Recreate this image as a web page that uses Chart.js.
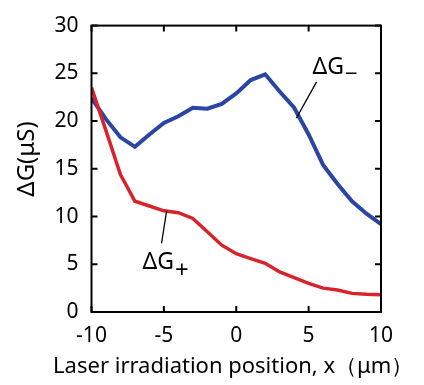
<!DOCTYPE html>
<html>
<head>
<meta charset="utf-8">
<script src="https://cdn.jsdelivr.net/npm/chart.js@4/dist/chart.umd.min.js"></script>
<style>
  html, body { margin: 0; padding: 0; background: #fff; }
  #wrap { width: 424px; height: 385px; }
</style>
</head>
<body>
<div id="wrap"><canvas id="chart"></canvas></div>
<script>
// datos
const positions = [-10, -9, -8, -7, -6, -5, -4, -3, -2, -1, 0, 1, 2, 3, 4, 5, 6, 7, 8, 9, 10];
const gPlus  = [23.5, 19.0, 14.4, 11.6, 11.1, 10.6, 10.4, 9.8, 8.4, 7.0, 6.1, 5.6, 5.1, 4.2, 3.6, 3.0, 2.5, 2.3, 1.95, 1.85, 1.8];
const gMinus = [22.4, 20.2, 18.3, 17.3, 18.6, 19.8, 20.5, 21.4, 21.3, 21.8, 22.9, 24.3, 24.9, 23.1, 21.4, 18.6, 15.4, 13.4, 11.6, 10.3, 9.2];
const xTicks = [-10, -5, 0, 5, 10];
const yTicks = [0, 5, 10, 15, 20, 25, 30];
const xTitle = 'Laser irradiation position, x（μm）';
const yTitle = 'ΔG(μS)';

const FONT = "'Noto Sans', sans-serif";

function toPoints(values) {
    return positions.map((x, i) => ({ x: x, y: values[i] }));
}

// etiquetas dentro del grafico (valores en coordenadas de datos)
const labels = [
    { text: 'ΔG', sub: '−', x: 5.27, y: 24.9, lineFrom: [5.55, 24.1], lineTo: [4.15, 20.3] },
    { text: 'ΔG', sub: '+', x: -6.47, y: 4.55, lineFrom: [-4.81, 10.6], lineTo: [-5.16, 7.2] }
];

const framePlugin = {
    id: 'frame',
    afterDraw(chart) {
        const ctx = chart.ctx;
        const a = chart.chartArea;
        const xs = chart.scales.x;
        const ys = chart.scales.y;
        ctx.save();
        ctx.strokeStyle = '#000';
        ctx.lineWidth = 2;
        ctx.strokeRect(a.left, a.top, a.right - a.left, a.bottom - a.top);
        // ticks hacia adentro en los cuatro lados
        const len = 6;
        ctx.beginPath();
        for (let v of xTicks) {
            let px = xs.getPixelForValue(v);
            ctx.moveTo(px, a.bottom); ctx.lineTo(px, a.bottom - len);
            ctx.moveTo(px, a.top); ctx.lineTo(px, a.top + len);
        }
        for (let v of yTicks) {
            let py = ys.getPixelForValue(v);
            ctx.moveTo(a.left, py); ctx.lineTo(a.left + len, py);
            ctx.moveTo(a.right, py); ctx.lineTo(a.right - len, py);
        }
        ctx.stroke();

        // titulos de los ejes (Chart.js comprime el titulo x al ancho del eje)
        ctx.fillStyle = '#000';
        ctx.font = '22px ' + FONT;
        ctx.textAlign = 'center';
        ctx.textBaseline = 'alphabetic';
        ctx.fillText(xTitle, (a.left + a.right) / 2 - 3, 373);
        ctx.save();
        ctx.translate(27, 159);
        ctx.rotate(-Math.PI / 2);
        ctx.font = '24px ' + FONT;
        ctx.textBaseline = 'middle';
        ctx.fillText(yTitle, 0, 0);
        ctx.restore();

        // etiquetas ΔG+ y ΔG−
        ctx.lineWidth = 1.3;
        ctx.textBaseline = 'alphabetic';
        ctx.textAlign = 'left';
        for (let l of labels) {
            ctx.beginPath();
            ctx.moveTo(xs.getPixelForValue(l.lineFrom[0]), ys.getPixelForValue(l.lineFrom[1]));
            ctx.lineTo(xs.getPixelForValue(l.lineTo[0]), ys.getPixelForValue(l.lineTo[1]));
            ctx.stroke();
            let px = xs.getPixelForValue(l.x);
            let py = ys.getPixelForValue(l.y);
            ctx.font = '23px ' + FONT;
            ctx.fillText(l.text, px, py);
            let w = ctx.measureText(l.text).width;
            if (l.sub === '+') {
                ctx.font = '24px ' + FONT;
                ctx.fillText('+', px + w + 1, py + 9);
            } else {
                ctx.font = '22px ' + FONT;
                ctx.fillText('−', px + w + 1, py + 7);
            }
        }
        ctx.restore();
    }
};

let ctx = document.getElementById('chart').getContext('2d');
let chart = new Chart(ctx, {
    type: 'line',
    data: {
        datasets: [
            {
                label: 'ΔG+',
                data: toPoints(gPlus),
                borderColor: '#D8232B',
                borderWidth: 3.5,
                pointRadius: 0,
                tension: 0,
                fill: false
            },
            {
                label: 'ΔG−',
                data: toPoints(gMinus),
                borderColor: '#2B45A3',
                borderWidth: 4,
                pointRadius: 0,
                tension: 0,
                fill: false
            }
        ]
    },
    options: {
        responsive: true,
        maintainAspectRatio: false,
        animation: false,
        layout: { padding: { left: 0, right: 43, top: 24, bottom: 0 } },
        plugins: { legend: { display: false }, tooltip: { enabled: false } },
        scales: {
            x: {
                type: 'linear',
                min: -10,
                max: 10,
                afterBuildTicks: (scale) => { scale.ticks = xTicks.map(v => ({ value: v })); },
                afterFit: (scale) => { scale.height = 73; },
                grid: { display: false, drawTicks: false },
                border: { display: false },
                ticks: { color: '#000', padding: 11, font: { family: FONT, size: 21 }, maxRotation: 0 }
            },
            y: {
                min: 0,
                max: 30,
                afterBuildTicks: (scale) => { scale.ticks = yTicks.map(v => ({ value: v })); },
                afterFit: (scale) => { scale.width = 91.5; },
                grid: { display: false, drawTicks: false },
                border: { display: false },
                ticks: { color: '#000', padding: 13, font: { family: FONT, size: 21 } }
            }
        }
    },
    plugins: [framePlugin]
});
</script>
</body>
</html>
